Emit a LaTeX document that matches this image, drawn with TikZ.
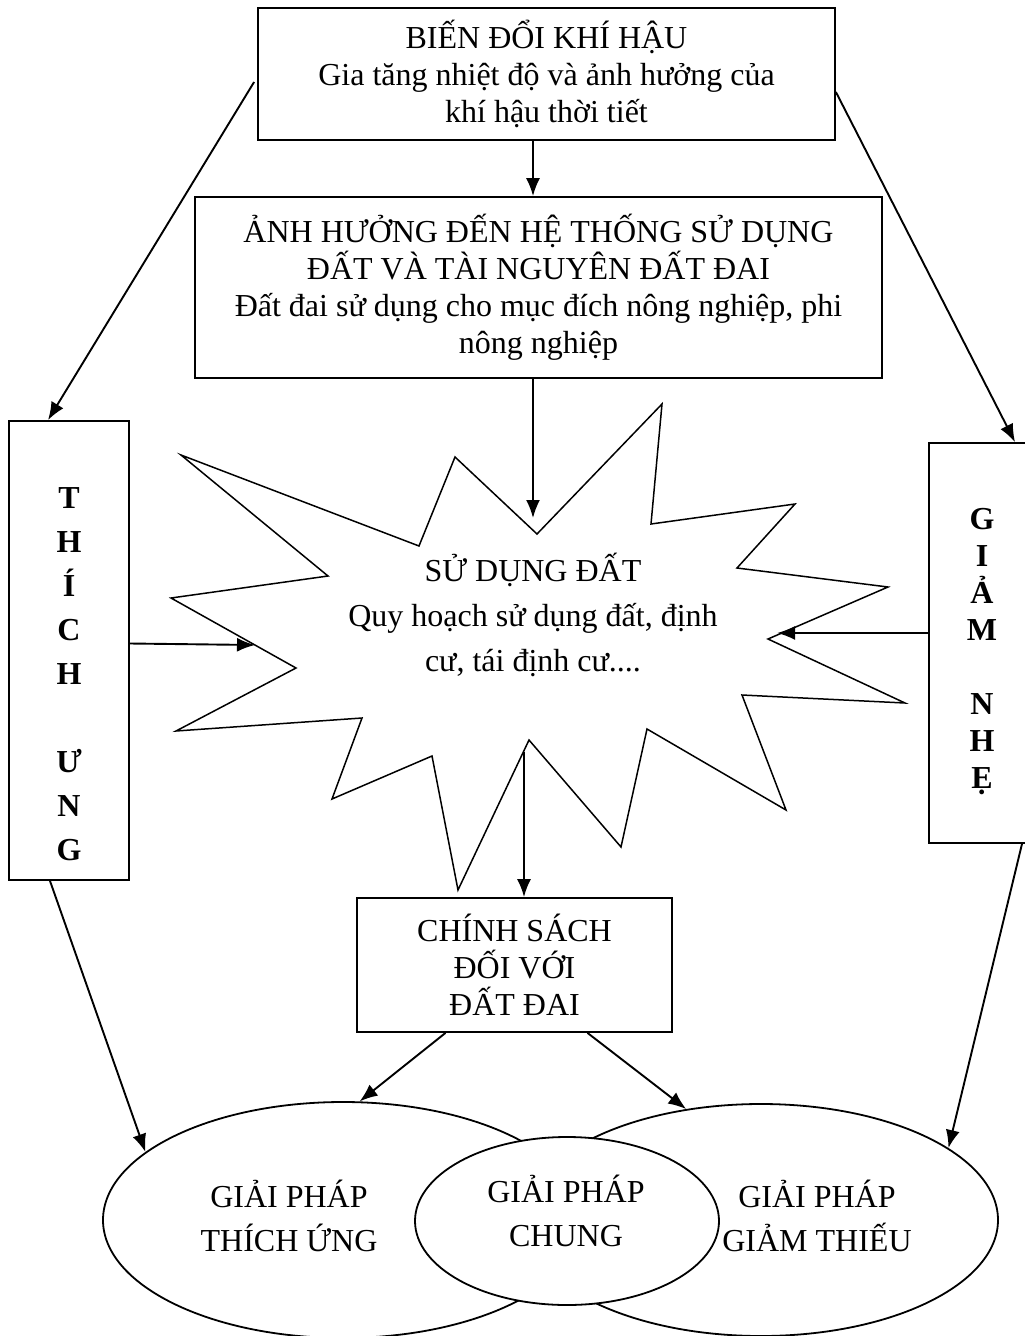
\documentclass[tikz,border=0pt]{standalone}
\usepackage{fontspec}
\setmainfont{Liberation Serif}
\usetikzlibrary{shapes.geometric, arrows.meta, calc}
\tikzstyle{box} = [rectangle, draw=black, line width=1.8pt, align=center, inner sep=0pt, font=\fontsize{32}{37}\selectfont]
\tikzstyle{ell} = [ellipse, draw=black, line width=1.8pt, inner sep=0pt]
\tikzstyle{txt} = [align=center, font=\fontsize{32}{44}\selectfont]
\tikzstyle{col} = [align=center, font=\fontsize{32}{44}\selectfont\bfseries]
\tikzstyle{arrow} = [line width=1.9pt, -{Latex[length=18pt,width=14pt]}]

\begin{document}
\begin{tikzpicture}[x=1pt,y=-1pt]
\useasboundingbox (0,0) rectangle (1025,1336);
\node[box, minimum width=577pt, minimum height=132pt] (bdkh) at (546.5,74) {BIẾN ĐỔI KHÍ HẬU\\Gia tăng nhiệt độ và ảnh hưởng của\\khí hậu thời tiết};
\node[box, minimum width=687pt, minimum height=181pt] (ahsd) at (538.5,287.5) {ẢNH HƯỞNG ĐẾN HỆ THỐNG SỬ DỤNG\\ĐẤT VÀ TÀI NGUYÊN ĐẤT ĐAI\\Đất đai sử dụng cho mục đích nông nghiệp, phi\\nông nghiệp};
\node[box, minimum width=120pt, minimum height=459pt] (thich) at (69,650.5) {};
\node[col] (thich txt) at (69,674) {T\\H\\Í\\C\\H\\[44pt]Ư\\N\\G};
\node[box, minimum width=106pt, minimum height=400pt] (giam) at (982,643) {};
\node[col, font=\fontsize{32}{37}\selectfont\bfseries] (giam txt) at (982,652) {G\\I\\Ả\\M\\[37pt]N\\H\\Ẹ};
\draw[line width=1.5pt, line join=miter] (181,455) -- (419,546) -- (455,457) -- (537,534) -- (662,404) -- (651,524)
  -- (795,504) -- (737,568) -- (888,587) -- (768,639) -- (905,703) -- (742,695) -- (786,810) -- (647,729)
  -- (621,847) -- (529,740) -- (458,890) -- (432,756) -- (332,799) -- (362,718) -- (176,731) -- (296,668)
  -- (171,598) -- (328,576) -- cycle;
\node[txt, font=\fontsize{32}{45}\selectfont] (sdd) at (533,615) {SỬ DỤNG ĐẤT\\Quy hoạch sử dụng đất, định\\cư, tái định cư....};
\node[box, minimum width=315pt, minimum height=134pt] (cs) at (514.5,965) {CHÍNH SÁCH\\ĐỐI VỚI\\ĐẤT ĐAI};
\node[ell, minimum width=480pt, minimum height=236pt] (gptu) at (343,1220) {};
\node[ell, minimum width=474pt, minimum height=232pt] (gpgt) at (761,1220) {};
\node[ell, fill=white, minimum width=304pt, minimum height=168pt] (gpc) at (567,1221) {};
\node[txt] (gptu txt) at (289,1216) {GIẢI PHÁP\\THÍCH ỨNG};
\node[txt] (gpc txt) at (566,1211) {GIẢI PHÁP\\CHUNG};
\node[txt] (gpgt txt) at (817,1216) {GIẢI PHÁP\\GIẢM THIẾU};
\coordinate (s in) at (533,518);
\coordinate (s out) at (524,752);
\coordinate (s left) at (255,645);
\coordinate (s right) at (777,633);
\draw[arrow] (bdkh.south -| s in) -- (ahsd.north -| s in);
\draw[arrow] (ahsd.south -| s in) -- (s in);
\draw[arrow] (s out) -- (cs.north -| s out);
\draw[arrow] ($(bdkh.west)+(-3,8)$) -- ($(thich.north)+(-21,0)$);
\draw[arrow] ($(bdkh.east)+(0,18)$) -- ($(giam.north)+(33,0)$);
\draw[arrow] ($(thich.east)+(0,-7)$) -- (s left);
\draw[arrow] ($(giam.west)+(0,-10)$) -- (s right);
\draw[arrow] ($(thich.south)+(-19,0)$) -- (gptu.161);
\draw[arrow] ($(giam.south)+(40,0)$) -- (gpgt.21);
\draw[arrow] ($(cs.south)+(-69,0)$) -- (gptu.82);
\draw[arrow] ($(cs.south)+(73,0)$) -- (gpgt.124);
\end{tikzpicture}
\end{document}
